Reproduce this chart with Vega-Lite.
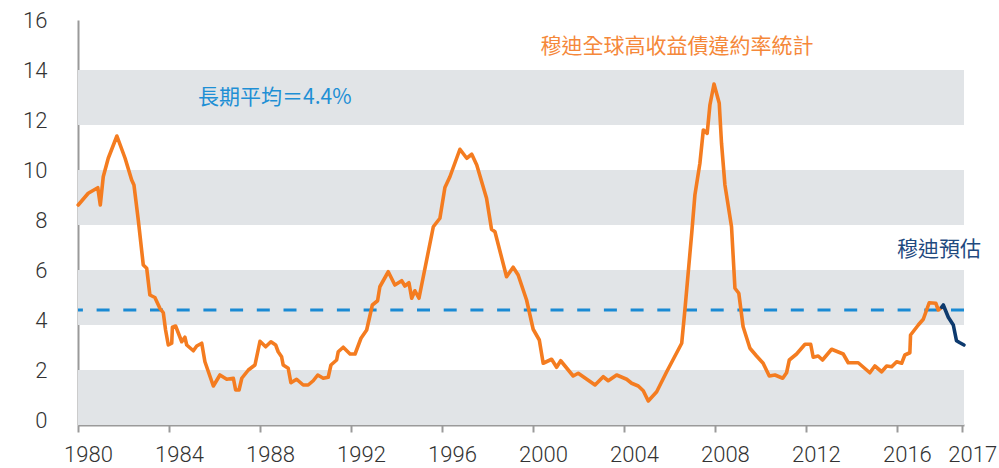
{
  "$schema": "https://vega.github.io/schema/vega-lite/v6.json",
  "width": 886,
  "height": 405,
  "autosize": {"type": "none"},
  "padding": {"left": 78, "top": 20, "right": 35, "bottom": 43},
  "background": "#ffffff",
  "config": {"view": {"stroke": null}},
  "datasets": {
    "bands": [
      {"lo": -0.2, "hi": 2},
      {"lo": 3.8, "hi": 6},
      {"lo": 7.8, "hi": 10},
      {"lo": 11.8, "hi": 14}
    ],
    "avg": [{"rate": 4.4}],
    "notes": [
      {"id": "title", "year": 2006.33, "rate": 14.92, "text": "穆迪全球高收益債違約率統計"},
      {"id": "avg", "year": 1985.28, "rate": 12.88, "text": "長期平均＝4.4%"},
      {"id": "fc", "year": 2016.0, "rate": 6.8, "text": "穆迪預估"}
    ],
    "rates": [
      {"series": "actual", "year": 1980.01, "rate": 8.6},
      {"series": "actual", "year": 1980.45, "rate": 9.07},
      {"series": "actual", "year": 1980.87, "rate": 9.29},
      {"series": "actual", "year": 1980.98, "rate": 8.6},
      {"series": "actual", "year": 1981.11, "rate": 9.73},
      {"series": "actual", "year": 1981.33, "rate": 10.47},
      {"series": "actual", "year": 1981.71, "rate": 11.36},
      {"series": "actual", "year": 1982.07, "rate": 10.47},
      {"series": "actual", "year": 1982.36, "rate": 9.6},
      {"series": "actual", "year": 1982.46, "rate": 9.4},
      {"series": "actual", "year": 1982.65, "rate": 8.0},
      {"series": "actual", "year": 1982.87, "rate": 6.2},
      {"series": "actual", "year": 1983.02, "rate": 6.07},
      {"series": "actual", "year": 1983.16, "rate": 5.0},
      {"series": "actual", "year": 1983.38, "rate": 4.9},
      {"series": "actual", "year": 1983.6, "rate": 4.47},
      {"series": "actual", "year": 1983.75, "rate": 4.29},
      {"series": "actual", "year": 1983.85, "rate": 3.6},
      {"series": "actual", "year": 1983.97, "rate": 3.0},
      {"series": "actual", "year": 1984.12, "rate": 3.07},
      {"series": "actual", "year": 1984.15, "rate": 3.71},
      {"series": "actual", "year": 1984.29, "rate": 3.76},
      {"series": "actual", "year": 1984.56, "rate": 3.13},
      {"series": "actual", "year": 1984.7, "rate": 3.31},
      {"series": "actual", "year": 1984.78, "rate": 3.0},
      {"series": "actual", "year": 1985.07, "rate": 2.77},
      {"series": "actual", "year": 1985.22, "rate": 2.96},
      {"series": "actual", "year": 1985.44, "rate": 3.07},
      {"series": "actual", "year": 1985.58, "rate": 2.33},
      {"series": "actual", "year": 1985.95, "rate": 1.36},
      {"series": "actual", "year": 1986.24, "rate": 1.8},
      {"series": "actual", "year": 1986.54, "rate": 1.63},
      {"series": "actual", "year": 1986.83, "rate": 1.67},
      {"series": "actual", "year": 1986.93, "rate": 1.2},
      {"series": "actual", "year": 1987.08, "rate": 1.2},
      {"series": "actual", "year": 1987.2, "rate": 1.67},
      {"series": "actual", "year": 1987.49, "rate": 2.0},
      {"series": "actual", "year": 1987.78, "rate": 2.2},
      {"series": "actual", "year": 1988.0, "rate": 3.15},
      {"series": "actual", "year": 1988.25, "rate": 2.93},
      {"series": "actual", "year": 1988.48, "rate": 3.13},
      {"series": "actual", "year": 1988.69, "rate": 3.0},
      {"series": "actual", "year": 1988.8, "rate": 2.73},
      {"series": "actual", "year": 1988.95, "rate": 2.53},
      {"series": "actual", "year": 1989.02, "rate": 2.2},
      {"series": "actual", "year": 1989.24, "rate": 2.07},
      {"series": "actual", "year": 1989.36, "rate": 1.49},
      {"series": "actual", "year": 1989.61, "rate": 1.63},
      {"series": "actual", "year": 1989.9, "rate": 1.4},
      {"series": "actual", "year": 1990.12, "rate": 1.4},
      {"series": "actual", "year": 1990.34, "rate": 1.57},
      {"series": "actual", "year": 1990.54, "rate": 1.8},
      {"series": "actual", "year": 1990.78, "rate": 1.67},
      {"series": "actual", "year": 1991.0, "rate": 1.71},
      {"series": "actual", "year": 1991.12, "rate": 2.2},
      {"series": "actual", "year": 1991.37, "rate": 2.4},
      {"series": "actual", "year": 1991.44, "rate": 2.73},
      {"series": "actual", "year": 1991.66, "rate": 2.91},
      {"series": "actual", "year": 1991.96, "rate": 2.64},
      {"series": "actual", "year": 1992.18, "rate": 2.64},
      {"series": "actual", "year": 1992.44, "rate": 3.27},
      {"series": "actual", "year": 1992.69, "rate": 3.6},
      {"series": "actual", "year": 1992.94, "rate": 4.6},
      {"series": "actual", "year": 1993.17, "rate": 4.77},
      {"series": "actual", "year": 1993.27, "rate": 5.33},
      {"series": "actual", "year": 1993.64, "rate": 5.93},
      {"series": "actual", "year": 1993.93, "rate": 5.4},
      {"series": "actual", "year": 1994.23, "rate": 5.57},
      {"series": "actual", "year": 1994.37, "rate": 5.36},
      {"series": "actual", "year": 1994.55, "rate": 5.49},
      {"series": "actual", "year": 1994.67, "rate": 4.87},
      {"series": "actual", "year": 1994.81, "rate": 5.17},
      {"series": "actual", "year": 1994.99, "rate": 4.87},
      {"series": "actual", "year": 1995.62, "rate": 7.73},
      {"series": "actual", "year": 1995.91, "rate": 8.07},
      {"series": "actual", "year": 1996.13, "rate": 9.3},
      {"series": "actual", "year": 1996.35, "rate": 9.73},
      {"series": "actual", "year": 1996.79, "rate": 10.83},
      {"series": "actual", "year": 1997.09, "rate": 10.47},
      {"series": "actual", "year": 1997.31, "rate": 10.63},
      {"series": "actual", "year": 1997.53, "rate": 10.2},
      {"series": "actual", "year": 1997.96, "rate": 8.87},
      {"series": "actual", "year": 1998.18, "rate": 7.63},
      {"series": "actual", "year": 1998.33, "rate": 7.53},
      {"series": "actual", "year": 1998.84, "rate": 5.73},
      {"series": "actual", "year": 1999.13, "rate": 6.11},
      {"series": "actual", "year": 1999.35, "rate": 5.8},
      {"series": "actual", "year": 1999.72, "rate": 4.8},
      {"series": "actual", "year": 2000.01, "rate": 3.63},
      {"series": "actual", "year": 2000.28, "rate": 3.2},
      {"series": "actual", "year": 2000.45, "rate": 2.27},
      {"series": "actual", "year": 2000.82, "rate": 2.43},
      {"series": "actual", "year": 2001.04, "rate": 2.11},
      {"series": "actual", "year": 2001.22, "rate": 2.37},
      {"series": "actual", "year": 2001.77, "rate": 1.76},
      {"series": "actual", "year": 2001.99, "rate": 1.87},
      {"series": "actual", "year": 2002.73, "rate": 1.4},
      {"series": "actual", "year": 2003.09, "rate": 1.73},
      {"series": "actual", "year": 2003.31, "rate": 1.57},
      {"series": "actual", "year": 2003.68, "rate": 1.8},
      {"series": "actual", "year": 2004.12, "rate": 1.63},
      {"series": "actual", "year": 2004.34, "rate": 1.47},
      {"series": "actual", "year": 2004.63, "rate": 1.36},
      {"series": "actual", "year": 2004.85, "rate": 1.17},
      {"series": "actual", "year": 2005.07, "rate": 0.76},
      {"series": "actual", "year": 2005.44, "rate": 1.13},
      {"series": "actual", "year": 2005.88, "rate": 1.93},
      {"series": "actual", "year": 2006.54, "rate": 3.07},
      {"series": "actual", "year": 2006.68, "rate": 4.4},
      {"series": "actual", "year": 2006.98, "rate": 7.47},
      {"series": "actual", "year": 2007.12, "rate": 9.0},
      {"series": "actual", "year": 2007.34, "rate": 10.27},
      {"series": "actual", "year": 2007.49, "rate": 11.6},
      {"series": "actual", "year": 2007.66, "rate": 11.47},
      {"series": "actual", "year": 2007.78, "rate": 12.6},
      {"series": "actual", "year": 2007.96, "rate": 13.44},
      {"series": "actual", "year": 2008.19, "rate": 12.67},
      {"series": "actual", "year": 2008.29, "rate": 11.07},
      {"series": "actual", "year": 2008.44, "rate": 9.4},
      {"series": "actual", "year": 2008.73, "rate": 7.73},
      {"series": "actual", "year": 2008.88, "rate": 5.27},
      {"series": "actual", "year": 2009.05, "rate": 5.07},
      {"series": "actual", "year": 2009.24, "rate": 3.73},
      {"series": "actual", "year": 2009.54, "rate": 2.87},
      {"series": "actual", "year": 2009.83, "rate": 2.56},
      {"series": "actual", "year": 2010.12, "rate": 2.27},
      {"series": "actual", "year": 2010.39, "rate": 1.76},
      {"series": "actual", "year": 2010.64, "rate": 1.8},
      {"series": "actual", "year": 2010.98, "rate": 1.67},
      {"series": "actual", "year": 2011.15, "rate": 1.89},
      {"series": "actual", "year": 2011.27, "rate": 2.4},
      {"series": "actual", "year": 2011.59, "rate": 2.64},
      {"series": "actual", "year": 2011.96, "rate": 3.03},
      {"series": "actual", "year": 2012.21, "rate": 3.03},
      {"series": "actual", "year": 2012.32, "rate": 2.51},
      {"series": "actual", "year": 2012.54, "rate": 2.56},
      {"series": "actual", "year": 2012.73, "rate": 2.4},
      {"series": "actual", "year": 2013.13, "rate": 2.83},
      {"series": "actual", "year": 2013.64, "rate": 2.64},
      {"series": "actual", "year": 2013.86, "rate": 2.29},
      {"series": "actual", "year": 2014.3, "rate": 2.29},
      {"series": "actual", "year": 2014.81, "rate": 1.89},
      {"series": "actual", "year": 2015.03, "rate": 2.16},
      {"series": "actual", "year": 2015.33, "rate": 1.93},
      {"series": "actual", "year": 2015.55, "rate": 2.16},
      {"series": "actual", "year": 2015.77, "rate": 2.13},
      {"series": "actual", "year": 2015.99, "rate": 2.33},
      {"series": "actual", "year": 2016.21, "rate": 2.27},
      {"series": "actual", "year": 2016.35, "rate": 2.6},
      {"series": "actual", "year": 2016.57, "rate": 2.69},
      {"series": "actual", "year": 2016.6, "rate": 3.4},
      {"series": "actual", "year": 2016.94, "rate": 3.8},
      {"series": "actual", "year": 2017.16, "rate": 4.03},
      {"series": "actual", "year": 2017.42, "rate": 4.69},
      {"series": "actual", "year": 2017.71, "rate": 4.67},
      {"series": "actual", "year": 2017.82, "rate": 4.4},
      {"series": "actual", "year": 2017.97, "rate": 4.51},
      {"series": "forecast", "year": 2017.97, "rate": 4.51},
      {"series": "forecast", "year": 2018.04, "rate": 4.6},
      {"series": "forecast", "year": 2018.26, "rate": 4.11},
      {"series": "forecast", "year": 2018.48, "rate": 3.8},
      {"series": "forecast", "year": 2018.62, "rate": 3.17},
      {"series": "forecast", "year": 2018.77, "rate": 3.09},
      {"series": "forecast", "year": 2018.95, "rate": 3.0}
    ]
  },
  "layer": [
    {
      "data": {"name": "bands"},
      "mark": {"type": "rect", "color": "#e1e4e7"},
      "encoding": {
        "y": {"field": "lo", "type": "quantitative", "scale": {"domain": [-0.2, 16], "nice": false, "zero": false},
          "axis": {"values": [0, 2, 4, 6, 8, 10, 12, 14, 16], "title": null, "grid": false, "ticks": false, "tickSize": 0, "labelPadding": 31,
            "domainColor": "#9a9a9a", "domainWidth": 2, "labelFont": "Roboto", "labelFontWeight": 300, "labelFontSize": 22, "labelColor": "#333333", "labelBaseline": "middle"}},
        "y2": {"field": "hi"}
      }
    },
    {
      "data": {"name": "avg"},
      "mark": {"type": "rule", "color": "#1a8ad4", "strokeWidth": 2.8, "strokeDash": [13, 13.7]},
      "encoding": {"y": {"field": "rate", "type": "quantitative"}}
    },
    {
      "data": {"name": "rates"},
      "mark": {"type": "line", "strokeWidth": 3.6, "strokeJoin": "round", "strokeCap": "round"},
      "encoding": {
        "x": {"field": "year", "type": "quantitative", "scale": {"domain": [1980, 2018.95], "nice": false, "zero": false},
          "axis": {"values": [1980, 1984, 1988, 1992, 1996, 2000, 2004, 2008, 2012, 2016, 2018.87],
            "labelExpr": "datum.value > 2017 ? '2017' : format(datum.value, 'd')",
            "title": null, "grid": false, "tickSize": 7, "tickWidth": 2, "tickColor": "#9a9a9a", "domainColor": "#9a9a9a", "domainWidth": 2,
            "labelPadding": 12, "labelOffset": 10, "labelFont": "Roboto", "labelFontWeight": 300, "labelFontSize": 22, "labelColor": "#333333",
            "labelFlush": false, "labelOverlap": false, "labelBound": false}},
        "y": {"field": "rate", "type": "quantitative"},
        "color": {"field": "series", "type": "nominal", "scale": {"domain": ["actual", "forecast"], "range": ["#f47c20", "#0d3a6e"]}, "legend": null}
      }
    },
    {
      "data": {"name": "notes"},
      "transform": [{"filter": "datum.id === 'title'"}],
      "mark": {"type": "text", "font": "Noto Sans CJK TC", "fontSize": 21, "color": "#f5883a", "align": "center", "baseline": "middle"},
      "encoding": {"x": {"field": "year", "type": "quantitative"}, "y": {"field": "rate", "type": "quantitative"}, "text": {"field": "text"}}
    },
    {
      "data": {"name": "notes"},
      "transform": [{"filter": "datum.id === 'avg'"}],
      "mark": {"type": "text", "font": "Noto Sans CJK TC", "fontSize": 21, "color": "#1e8fd5", "align": "left", "baseline": "middle"},
      "encoding": {"x": {"field": "year", "type": "quantitative"}, "y": {"field": "rate", "type": "quantitative"}, "text": {"field": "text"}}
    },
    {
      "data": {"name": "notes"},
      "transform": [{"filter": "datum.id === 'fc'"}],
      "mark": {"type": "text", "font": "Noto Sans CJK TC", "fontSize": 21, "color": "#1f4a7f", "align": "left", "baseline": "middle"},
      "encoding": {"x": {"field": "year", "type": "quantitative"}, "y": {"field": "rate", "type": "quantitative"}, "text": {"field": "text"}}
    }
  ]
}
